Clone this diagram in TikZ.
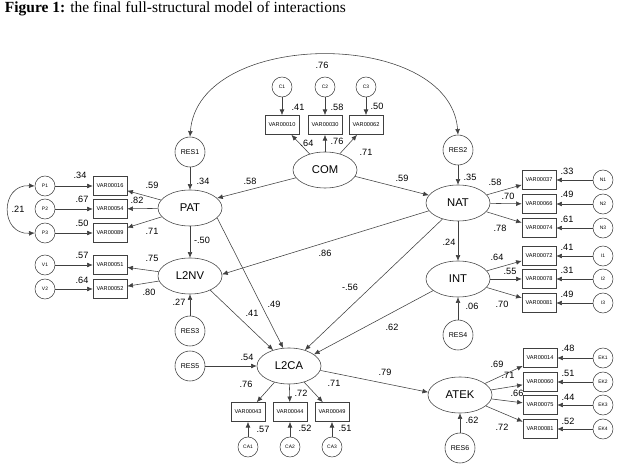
\documentclass[tikz,border=0pt]{standalone}
\usepackage{fontspec}
\setmainfont{Liberation Serif}
\setsansfont{Liberation Sans}
\usetikzlibrary{arrows.meta, shapes.geometric}
\colorlet{linegray}{black!75}
\tikzset{
  latent/.style={draw=linegray, line width=0.4pt, ellipse, minimum width=1.6cm, minimum height=0.9cm, inner sep=0pt, font=\sffamily\fontsize{8}{8}\selectfont},
  resid/.style={draw=linegray, line width=0.4pt, circle, minimum size=0.75cm, inner sep=0pt, font=\sffamily\fontsize{5}{5}\selectfont},
  errc/.style={draw=linegray, line width=0.4pt, circle, minimum size=0.5cm, inner sep=0pt, font=\sffamily\fontsize{3.5}{3.5}\selectfont},
  obs/.style={draw=linegray, line width=0.4pt, rectangle, minimum width=0.85cm, minimum height=0.48cm, inner sep=0pt, font=\sffamily\fontsize{4}{4}\selectfont},
  coef/.style={inner sep=0pt, font=\sffamily\fontsize{6.5}{6.5}\selectfont},
  arr/.style={draw=linegray, line width=0.4pt, -{Latex[length=4pt,width=3.4pt]}},
  cov/.style={draw=linegray, line width=0.4pt, {Latex[length=4pt,width=3.4pt]}-{Latex[length=4pt,width=3.4pt]}}
}
\begin{document}
\begin{tikzpicture}[x=0.025cm, y=-0.025cm]
  \useasboundingbox (0,0) rectangle (637,464);
  \node[anchor=west, font=\fontsize{11}{11}\selectfont] (title) at (0,9) {\textbf{Figure 1:} the final full-structural model of interactions};

  \node[latent] (com) at (325,170) {COM};
  \node[latent] (pat) at (190,208) {PAT};
  \node[latent] (lnv) at (190,276) {L2NV};
  \node[latent] (nat) at (458,203) {NAT};
  \node[latent] (int) at (458,279) {INT};
  \node[latent] (lca) at (289,366) {L2CA};
  \node[latent] (atek) at (460,395) {ATEK};

  \node[resid] (res1) at (190,152) {RES1};
  \node[resid] (res2) at (458,150) {RES2};
  \node[resid] (res3) at (190,331) {RES3};
  \node[resid] (res4) at (458,335) {RES4};
  \node[resid] (res5) at (190,366) {RES5};
  \node[resid] (res6) at (460,448) {RES6};

  \foreach \x/\v/\i in {282/VAR00010/1, 325/VAR00030/2, 366/VAR00062/3} {
    \node[obs] (cv\i) at (\x,125) {\v};
    \node[errc] (ce\i) at (\x,87) {C\i};
    \draw[arr] (ce\i) -- (cv\i);
    \draw[arr] (com) -- (cv\i);
  }
  \foreach \y/\v/\i in {186/VAR00016/1, 209/VAR00054/2, 233/VAR00089/3} {
    \node[obs] (pv\i) at (110,\y) {\v};
    \node[errc] (pe\i) at (45,\y) {P\i};
    \draw[arr] (pe\i) -- (pv\i);
    \draw[arr] (pat) -- (pv\i);
  }
  \foreach \y/\v/\i in {265/VAR00051/1, 289/VAR00052/2} {
    \node[obs] (vv\i) at (110,\y) {\v};
    \node[errc] (ve\i) at (45,\y) {V\i};
    \draw[arr] (ve\i) -- (vv\i);
    \draw[arr] (lnv) -- (vv\i);
  }
  \foreach \y/\v/\i in {180/VAR00037/1, 204/VAR00066/2, 228/VAR00074/3} {
    \node[obs] (nv\i) at (539,\y) {\v};
    \node[errc] (ne\i) at (603,\y) {N\i};
    \draw[arr] (ne\i) -- (nv\i);
    \draw[arr] (nat) -- (nv\i);
  }
  \foreach \y/\v/\i in {256/VAR00072/1, 279/VAR00078/2, 303/VAR00081/3} {
    \node[obs] (iv\i) at (539,\y) {\v};
    \node[errc] (ie\i) at (603,\y) {I\i};
    \draw[arr] (ie\i) -- (iv\i);
    \draw[arr] (int) -- (iv\i);
  }
  \foreach \y/\v/\i in {358/VAR00014/1, 382/VAR00060/2, 405/VAR00075/3, 429/VAR00081/4} {
    \node[obs] (av\i) at (540,\y) {\v};
    \node[errc] (ae\i) at (603,\y) {EK\i};
    \draw[arr] (ae\i) -- (av\i);
    \draw[arr] (atek) -- (av\i);
  }
  \foreach \x/\v/\i in {248/VAR00043/1, 290/VAR00044/2, 332/VAR00049/3} {
    \node[obs] (lv\i) at (\x,412) {\v};
    \node[errc] (le\i) at (\x,447) {CA\i};
    \draw[arr] (le\i) -- (lv\i);
    \draw[arr] (lca) -- (lv\i);
  }

  \draw[cov] (res1.north) .. controls (198,28) and (450,28) .. (res2.north);
  \draw[cov] (pe1.west) .. controls +(-35,-2) and +(-35,2) .. (pe3.west);

  \draw[arr] (res1) -- (pat);
  \draw[arr] (res2) -- (nat);
  \draw[arr] (res3) -- (lnv);
  \draw[arr] (res4) -- (int);
  \draw[arr] (res5) -- (lca);
  \draw[arr] (res6) -- (atek);
  \draw[arr] (com.195) -- (pat.20);
  \draw[arr] (com.-12) -- (nat.165);
  \draw[arr] (pat.south) -- (lnv.north);
  \draw[arr] (nat.south) -- (int.north);
  \draw[arr] (nat.195) -- (lnv.3);
  \draw[arr] (pat.-20) -- (lca.108);
  \draw[arr] (lnv.-35) -- (lca.135);
  \draw[arr] (nat.226) -- (lca.45);
  \draw[arr] (int.205) -- (lca.25);
  \draw[arr] (lca.-8) -- (atek.175);

  \node[coef] (k76) at (322,65) {.76};
  \node[coef] (k21) at (18,209) {.21};
  \foreach \x/\y/\t [count=\k] in {298/107/.41, 337/107/.58, 377/106/.50, 307/143/.64, 337/141/.76, 366/152/.71,
      80/175/.34, 82/199/.67, 82/223/.50, 152/185/.59, 137/200/.82, 152/231/.71,
      82/255/.57, 82/280/.64, 152/258/.75, 149/292/.80,
      567/171/.33, 567/194/.49, 567/219/.61, 495/182/.58, 508/196/.70, 500/228/.78,
      567/247/.41, 567/270/.31, 567/294/.49, 497/257/.64, 510/271/.55, 502/304/.70,
      568/348/.48, 568/373/.51, 568/397/.44, 568/421/.52, 497/364/.69, 508/375/.71, 517/393/.66, 502/427/.72,
      246/384/.76, 301/393/.72, 334/383/.71, 263/429/.57, 305/428/.52, 345/428/.51} {
    \node[coef] (m\k) at (\x,\y) {\t};
  }
  \foreach \x/\y/\t [count=\k] in {203/181/.34, 470/177/.35, 250/181/.58, 402/178/.59, 202/240/-.50, 449/242/.24,
      325/253/.86, 350/287/-.56, 274/304/.49, 252/313/.41, 392/327/.62, 179/302/.27, 472/306/.06,
      247/357/.54, 385/372/.79, 472/420/.62} {
    \node[coef] (s\k) at (\x,\y) {\t};
  }
\end{tikzpicture}
\end{document}
